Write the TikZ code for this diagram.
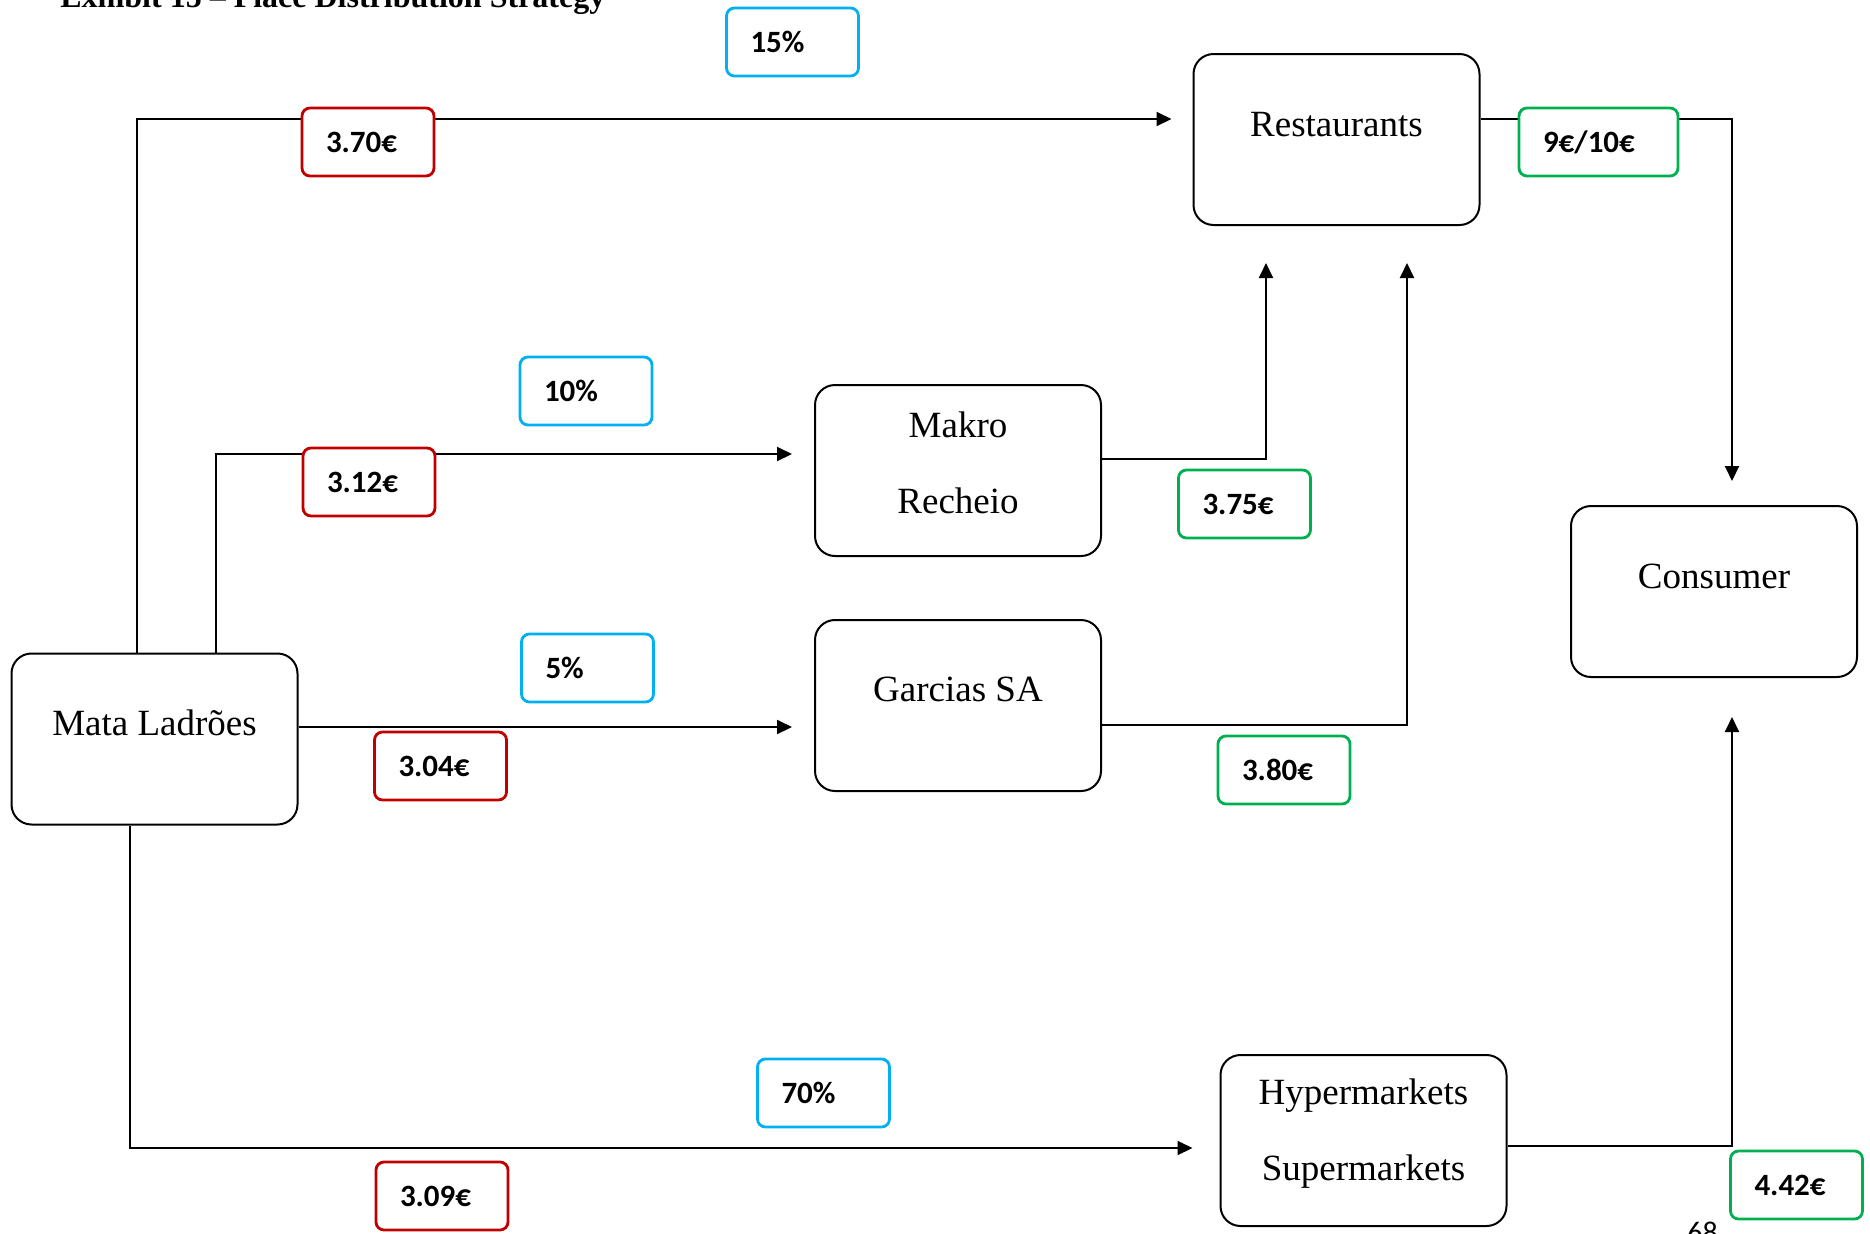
\documentclass[tikz,border=0pt]{standalone}
\usepackage{fontspec}
\setmainfont{Liberation Serif}
\newfontfamily\calibri{Carlito}
\usetikzlibrary{arrows.meta,calc}
\definecolor{cred}{RGB}{192,0,0}
\definecolor{cblue}{RGB}{0,176,240}
\definecolor{cgreen}{RGB}{0,176,80}
\tikzset{
  chain/.style={x=0.5pt,y=-0.5pt,font=\fontsize{18.5}{38}\selectfont,>={Triangle[length=7.5pt,width=7pt]}},
  stage/.style={draw,line width=1pt,rounded corners=10pt,minimum width=143pt,minimum height=85.5pt,inner sep=0pt},
  stagetext/.style={align=center,inner sep=0pt},
  flow/.style={line width=1pt,->},
  tag/.style={draw,fill=white,line width=1.4pt,rounded corners=4pt,minimum height=34pt,inner xsep=12pt,text width=42pt,align=left,font=\calibri\bfseries\fontsize{15.5}{18}\selectfont},
  share/.style={tag,draw=cblue},
  cost/.style={tag,draw=cred},
  price/.style={tag,draw=cgreen},
}

\begin{document}
\begin{tikzpicture}[chain]
    \useasboundingbox (0,0) rectangle (1870,1233);
    \clip (0,0) rectangle (1870,1233);
    % page fragments
    \node[anchor=base west,inner sep=0pt,font=\bfseries\fontsize{16}{19}\selectfont] (title) at (60,7) {Exhibit 15 – Place Distribution Strategy};
    \node[anchor=base west,inner sep=0pt,font=\calibri\fontsize{15}{18}\selectfont] (pageno) at (1687,1242) {68};
    % stages
    \node[stage] (mata)     at (154.5,739)   {};
    \node[stage] (rest)     at (1336.5,139.5) {};
    \node[stage] (makro)    at (958,470.5)   {};
    \node[stage] (garcias)  at (958,705.5)   {};
    \node[stage] (consumer) at (1714,591.5)  {};
    \node[stage] (hyper)    at (1363.5,1140.5) {};
    \node[stagetext] at ([yshift=8pt]mata.center)     {Mata Ladrões};
    \node[stagetext] at ([yshift=7.5pt]rest.center)   {Restaurants};
    \node[stagetext] at ([yshift=4pt]makro.center)    {Makro\\Recheio};
    \node[stagetext] at ([yshift=8pt]garcias.center)  {Garcias SA};
    \node[stagetext] at ([yshift=7.5pt]consumer.center) {Consumer};
    \node[stagetext] at ([yshift=3.5pt]hyper.center)  {Hypermarkets\\Supermarkets};
    % connectors
    \coordinate (restL)    at ($(rest.west)+(-21,-20.5)$);
    \coordinate (makroL)   at ($(makro.west)+(-22,-16.5)$);
    \coordinate (garciasL) at ($(garcias.west)+(-22,21.5)$);
    \coordinate (hyperL)   at ($(hyper.west)+(-27,7.5)$);
    \coordinate (restB1)   at ($(rest.south)+(-70.5,37)$);
    \coordinate (restB2)   at ($(rest.south)+(70.5,37)$);
    \coordinate (consT)    at ($(consumer.north)+(18,-24)$);
    \coordinate (consB)    at ($(consumer.south)+(18,39)$);
    \draw[flow] ($(mata.north west)+(126,0)$) |- (restL);
    \draw[flow] ($(mata.north west)+(205,0)$) |- (makroL);
    \draw[flow] (garciasL -| mata.east) -- (garciasL);
    \draw[flow] ($(mata.south west)+(119,0)$) |- (hyperL);
    \draw[flow] ($(makro.east)+(0,-11.5)$) -| (restB1);
    \draw[flow] ($(garcias.east)+(0,19.5)$) -| (restB2);
    \draw[flow] ($(rest.east)+(0,-20.5)$) -| (consT);
    \draw[flow] ($(hyper.east)+(0,5.5)$) -| (consB);
    % shares, costs and prices
    \node[share] (s15) at (792.5,42)  {15\%};
    \node[share] (s10) at (586,391)   {10\%};
    \node[share] (s5)  at (587.5,668) {5\%};
    \node[share] (s70) at (823.5,1093) {70\%};
    \node[cost] (c370) at (368,142)   {3.70€};
    \node[cost] (c312) at (369,482)   {3.12€};
    \node[cost] (c304) at (440.5,766) {3.04€};
    \node[cost] (c309) at (442,1196)  {3.09€};
    \node[price,text width=55.5pt] (p910) at (1598.5,142) {9€/10€};
    \node[price] (p375) at (1244.5,504) {3.75€};
    \node[price] (p380) at (1284,770)   {3.80€};
    \node[price] (p442) at (1796.5,1185) {4.42€};
\end{tikzpicture}
\end{document}
